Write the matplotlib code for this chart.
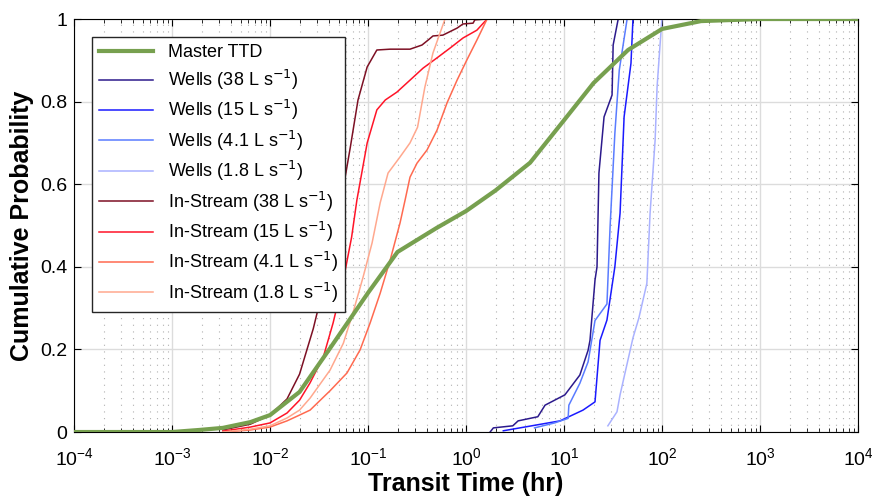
import numpy as np
import matplotlib
matplotlib.use("Agg")
import matplotlib.pyplot as plt
from matplotlib.ticker import NullFormatter

plt.rcParams['font.family'] = ['Liberation Sans', 'DejaVu Sans']

# master transit time distribution
master_t = [1e-4, 1e-3, 1.9e-3, 3.3e-3, 6.3e-3, 1e-2, 2e-2, 0.041, 0.1, 0.2, 0.5, 1, 2, 4.5, 10, 20, 45, 100, 250, 1000, 1e4]
master_p = [0, 0.0, 0.005, 0.01, 0.024, 0.041, 0.097, 0.203, 0.337, 0.436, 0.494, 0.535, 0.585, 0.652, 0.755, 0.845, 0.925, 0.976, 0.995, 1.0, 1.0]

# wells
w38_t = [1.76, 1.9, 3.0, 3.4, 5.4, 6.4, 10.2, 14.5, 17.6, 18.4, 20.7, 21.7, 22.7, 25.6, 30.9, 31.7, 35.7]
w38_p = [0.0, 0.01, 0.015, 0.027, 0.037, 0.065, 0.09, 0.138, 0.198, 0.222, 0.368, 0.4, 0.627, 0.763, 0.816, 0.937, 1.0]
w15_t = [2.4, 9.1, 15.6, 20.7, 23.3, 27.4, 33.0, 37.3, 41.0, 48.2, 50.5]
w15_p = [0.003, 0.027, 0.053, 0.073, 0.222, 0.271, 0.4, 0.53, 0.763, 0.893, 1.0]
w4_t = [5.0, 8.0, 11.0, 11.2, 14.5, 17.6, 20.7, 27.4, 29.5, 33.0, 36.6, 44.0]
w4_p = [0.01, 0.022, 0.033, 0.065, 0.118, 0.17, 0.27, 0.31, 0.497, 0.723, 0.876, 1.0]
w2_t = [28.0, 34.7, 37.3, 50.5, 58.0, 70.0, 75.5, 85.0, 89.0, 99.6]
w2_p = [0.015, 0.049, 0.09, 0.228, 0.276, 0.36, 0.53, 0.707, 0.836, 1.0]

# in-stream
s38_t = [3.3e-3, 6.3e-3, 0.01, 0.0149, 0.02, 0.0276, 0.038, 0.048, 0.054, 0.066, 0.079, 0.098, 0.123,
         0.168, 0.268, 0.355, 0.41, 0.46, 0.58, 0.81, 0.93, 1.18, 1.23, 1.64]
s38_p = [0.005, 0.019, 0.041, 0.08, 0.14, 0.25, 0.385, 0.513, 0.57, 0.69, 0.804, 0.884, 0.925,
         0.927, 0.927, 0.937, 0.949, 0.959, 0.961, 0.978, 0.988, 0.99, 0.998, 1.0]
s15_t = [3.3e-3, 6.3e-3, 0.01, 0.0149, 0.02, 0.0256, 0.035, 0.044, 0.056, 0.068, 0.077, 0.098, 0.123,
         0.15, 0.197, 0.268, 0.364, 0.506, 0.69, 0.93, 1.29, 1.64]
s15_p = [0.002, 0.012, 0.022, 0.046, 0.077, 0.119, 0.182, 0.264, 0.368, 0.472, 0.562, 0.7, 0.78,
         0.804, 0.823, 0.852, 0.881, 0.906, 0.93, 0.954, 0.973, 1.0]
s4_t = [3.3e-3, 6.3e-3, 0.01, 0.0149, 0.02, 0.0256, 0.041, 0.061, 0.083, 0.105, 0.133, 0.168, 0.212,
        0.239, 0.268, 0.316, 0.40, 0.506, 0.64, 0.81, 1.02, 1.29, 1.64]
s4_p = [0.0, 0.005, 0.012, 0.027, 0.041, 0.053, 0.1, 0.143, 0.199, 0.264, 0.336, 0.416, 0.506,
        0.562, 0.617, 0.651, 0.683, 0.731, 0.797, 0.852, 0.901, 0.949, 1.0]
s2_t = [3.3e-3, 6.3e-3, 0.01, 0.0149, 0.02, 0.0256, 0.041, 0.056, 0.07, 0.089, 0.11, 0.133, 0.16,
        0.212, 0.268, 0.32, 0.38, 0.46, 0.61, 1.64]
s2_p = [0.0, 0.007, 0.015, 0.034, 0.053, 0.082, 0.15, 0.215, 0.288, 0.375, 0.458, 0.555, 0.627,
        0.666, 0.7, 0.738, 0.835, 0.918, 1.0, 1.0]

decades = np.arange(-4, 5)

fig = plt.figure(figsize=(8.72, 4.98), dpi=100)
ax = fig.add_axes([0.0849, 0.1325, 0.8991, 0.8293])

ax.plot(master_t, master_p, color='#77a04f', lw=3, label='Master TTD', zorder=5)
ax.plot(w38_t, w38_p, color='#2c1a8c', lw=1.1, label='Wells (38 L s$^{-1}$)')
ax.plot(w15_t, w15_p, color='#1a1aff', lw=1.1, label='Wells (15 L s$^{-1}$)')
ax.plot(w4_t, w4_p, color='#5a7cff', lw=1.1, label='Wells (4.1 L s$^{-1}$)')
ax.plot(w2_t, w2_p, color='#aab2ff', lw=1.1, label='Wells (1.8 L s$^{-1}$)')
ax.plot(s38_t, s38_p, color='#7d1024', lw=1.1, label='In-Stream (38 L s$^{-1}$)')
ax.plot(s15_t, s15_p, color='#ff1428', lw=1.1, label='In-Stream (15 L s$^{-1}$)')
ax.plot(s4_t, s4_p, color='#ff6a50', lw=1.1, label='In-Stream (4.1 L s$^{-1}$)')
ax.plot(s2_t, s2_p, color='#ffa88e', lw=1.1, label='In-Stream (1.8 L s$^{-1}$)')

ax.set_xscale('log')
ax.set_xlim(1e-4, 1e4)
ax.set_ylim(0, 1)
ax.set_yticks([0, 0.2, 0.4, 0.6, 0.8, 1])
ax.set_yticklabels(['0', '0.2', '0.4', '0.6', '0.8', '1'])
ax.set_xticks(10.0 ** decades)
ax.set_xticklabels(['$\\mathregular{10^{%d}}$' % d for d in decades])
minors = [m * 10.0 ** d for d in decades[:-1] for m in range(2, 10)]
ax.set_xticks(minors, minor=True)
ax.xaxis.set_minor_formatter(NullFormatter())
ax.tick_params(which='both', direction='in', top=True, right=True, labelsize=14)
ax.tick_params(axis='x', which='major', length=5, pad=11)
ax.tick_params(axis='y', which='major', length=5, pad=5)
ax.tick_params(which='minor', length=3)

ax.grid(True, which='major', color='#dcdcdc', lw=1)
ax.grid(True, which='minor', axis='x', color='#b0b0b0', lw=0.8, linestyle=(0, (1, 5)))
ax.set_axisbelow(True)

ax.set_xlabel('Transit Time (hr)', fontsize=18, fontweight='bold', labelpad=2)
ax.set_ylabel('Cumulative Probability', fontsize=18, fontweight='bold', labelpad=4)

leg = ax.legend(loc='upper left', bbox_to_anchor=(0.023, 0.956), borderaxespad=0, fontsize=13,
                frameon=True, fancybox=False, edgecolor='#262626', framealpha=1, handlelength=3.0,
                borderpad=0.4, labelspacing=0.35)
leg.get_frame().set_linewidth(1.0)

fig.savefig('out.png', dpi=100)
